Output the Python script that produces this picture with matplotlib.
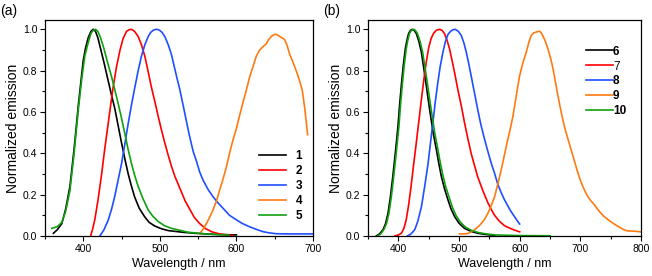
import matplotlib
matplotlib.use("Agg")
import matplotlib.pyplot as plt
from matplotlib.ticker import MultipleLocator

plt.rcParams['font.family'] = ['Liberation Sans', 'DejaVu Sans']

# ---- panel (a) data ----
wl1 = [361, 366, 372, 377, 382.6, 388, 393.5, 397, 400, 403, 406.5, 410, 413, 416, 419, 421.7,
       427, 432.6, 437, 441, 445.5, 450, 454.5, 458.7, 463, 467, 473, 480, 486, 493.5, 502,
       511, 530, 546, 570, 600]
em1 = [0.013, 0.03, 0.06, 0.13, 0.24, 0.42, 0.63, 0.75, 0.85, 0.91, 0.96, 0.99, 1.0, 0.99,
       0.96, 0.92, 0.84, 0.75, 0.68, 0.62, 0.535, 0.45, 0.37, 0.30, 0.24, 0.19, 0.135, 0.094,
       0.066, 0.048, 0.035, 0.026, 0.018, 0.013, 0.008, 0.005]
wl2 = [409.6, 412, 415, 419.5, 424, 428, 432.6, 436, 439, 443.5, 448, 452, 456.5, 460, 463,
       467, 471.7, 476, 480.4, 484.5, 489, 493.5, 497.8, 502, 506.5, 511, 515, 519.5, 524,
       528.5, 533, 539, 545, 552, 560, 568, 578, 595]
em2 = [0.0, 0.03, 0.077, 0.18, 0.30, 0.42, 0.545, 0.64, 0.72, 0.82, 0.90, 0.955, 0.99, 0.998,
       1.0, 0.99, 0.965, 0.925, 0.87, 0.80, 0.72, 0.65, 0.58, 0.515, 0.45, 0.39, 0.34, 0.29,
       0.25, 0.21, 0.17, 0.13, 0.09, 0.06, 0.035, 0.02, 0.01, 0.002]
wl3 = [421.7, 427, 432.6, 437, 441, 445.5, 450, 454.5, 458.7, 463, 467.4, 471.7, 476, 480.4,
       484.8, 488, 492, 495.6, 499, 503, 506.5, 511, 515, 518.5, 522, 526, 530, 535, 539,
       543.5, 548, 552, 556.5, 563, 569.5, 576, 582.6, 591, 600, 608, 617, 626, 634.7, 643,
       652, 665, 678, 700]
em3 = [0.0, 0.03, 0.077, 0.13, 0.19, 0.27, 0.35, 0.45, 0.545, 0.635, 0.72, 0.80, 0.87, 0.925,
       0.965, 0.985, 0.997, 1.0, 0.997, 0.985, 0.965, 0.925, 0.88, 0.825, 0.77, 0.71, 0.64,
       0.55, 0.48, 0.41, 0.36, 0.31, 0.27, 0.225, 0.19, 0.16, 0.134, 0.1, 0.078, 0.06, 0.045,
       0.032, 0.021, 0.015, 0.011, 0.01, 0.01, 0.01]
wl4 = [552, 556, 560.8, 565, 569.5, 574, 578, 582.5, 587, 591, 595.6, 600, 604, 608.5, 613,
       617, 621.7, 626, 630.4, 634.5, 639, 642, 645.6, 648, 651, 654, 656.5, 660, 663, 666,
       669.5, 673, 676, 680, 683, 686, 689, 691, 693]
em4 = [0.013, 0.03, 0.06, 0.09, 0.126, 0.17, 0.22, 0.275, 0.335, 0.40, 0.465, 0.52, 0.58,
       0.645, 0.706, 0.765, 0.82, 0.87, 0.90, 0.915, 0.93, 0.95, 0.965, 0.972, 0.976, 0.972,
       0.965, 0.958, 0.95, 0.925, 0.88, 0.85, 0.82, 0.78, 0.745, 0.706, 0.626, 0.56, 0.49]
wl5 = [359, 366, 372, 377, 382.6, 388, 393.5, 398, 402, 406, 410, 413, 416, 419, 422, 426,
       431, 437, 441, 445.6, 450, 454, 458.5, 463, 467, 471.7, 478, 484.8, 491, 497.8, 506,
       515, 537, 560, 590]
em5 = [0.037, 0.045, 0.066, 0.12, 0.22, 0.40, 0.61, 0.76, 0.87, 0.93, 0.98, 0.995, 1.0, 0.99,
       0.965, 0.92, 0.85, 0.77, 0.71, 0.64, 0.57, 0.50, 0.42, 0.35, 0.295, 0.24, 0.18, 0.126,
       0.095, 0.07, 0.05, 0.037, 0.018, 0.01, 0.004]

# ---- panel (b) data ----
wl6 = [363.7, 369, 374.7, 379, 383, 387, 391, 395, 399.4, 402, 405, 408, 411.5, 414, 417, 420,
       423, 426, 429.6, 434, 438, 442, 446, 450, 454, 458, 462.6, 466.5, 470.8, 476, 481.8,
       487, 492.8, 500, 509, 520, 531, 545, 558.7]
em6 = [0.0, 0.01, 0.03, 0.06, 0.11, 0.19, 0.29, 0.40, 0.53, 0.63, 0.73, 0.82, 0.905, 0.945,
       0.98, 0.995, 1.0, 0.995, 0.98, 0.94, 0.89, 0.81, 0.73, 0.645, 0.565, 0.49, 0.42, 0.355,
       0.29, 0.23, 0.175, 0.13, 0.094, 0.062, 0.037, 0.022, 0.013, 0.007, 0.003]
wl7 = [394, 400, 405, 409, 413, 417, 421, 425, 429.6, 434, 438, 442, 446, 450, 454, 458, 462.6,
       468, 472, 476, 480, 484.5, 488.5, 492.8, 498, 503.8, 509, 514.7, 520, 525.7, 531,
       536.7, 542, 547.7, 553, 558.7, 567, 575, 582, 590, 600]
em7 = [0.0, 0.005, 0.013, 0.035, 0.078, 0.15, 0.24, 0.34, 0.45, 0.56, 0.66, 0.755, 0.84, 0.91,
       0.955, 0.98, 0.995, 1.0, 0.995, 0.98, 0.95, 0.905, 0.85, 0.79, 0.71, 0.63, 0.55, 0.47,
       0.40, 0.34, 0.285, 0.24, 0.20, 0.16, 0.13, 0.10, 0.07, 0.05, 0.04, 0.03, 0.02]
wl8 = [415, 421, 427, 432, 438, 443.5, 449, 453, 457, 461, 465, 469, 473.6, 477.5, 481.8, 486,
       490, 494, 499, 503.8, 508, 512, 516, 520, 525, 531, 536, 542, 547.5, 553, 558.5, 564,
       569.5, 575, 580, 585, 590, 595, 600]
em8 = [0.0, 0.01, 0.03, 0.07, 0.14, 0.24, 0.35, 0.45, 0.55, 0.65, 0.74, 0.82, 0.89, 0.94,
       0.975, 0.99, 0.998, 1.0, 0.99, 0.97, 0.935, 0.89, 0.835, 0.776, 0.70, 0.61, 0.54, 0.47,
       0.41, 0.354, 0.305, 0.25, 0.21, 0.175, 0.148, 0.122, 0.10, 0.078, 0.058]
wl9 = [501, 508, 515, 520, 525.7, 531, 536.7, 542, 547.7, 553, 558.7, 563, 568, 573, 578,
       583.5, 589, 594.5, 600, 605.5, 611, 615, 619, 623, 627.4, 631, 633, 635, 638, 642,
       646.6, 651, 655, 659, 663, 667, 671, 675, 679.6, 684, 688, 692, 696, 700, 704, 708,
       712.5, 718, 723.5, 727.5, 731.7, 737, 742.7, 748, 753.7, 759, 764.7, 770, 775.7, 781,
       786.7, 793, 800]
em9 = [0.01, 0.01, 0.012, 0.02, 0.03, 0.043, 0.06, 0.08, 0.11, 0.145, 0.19, 0.24, 0.30, 0.365,
       0.435, 0.505, 0.58, 0.68, 0.776, 0.84, 0.89, 0.935, 0.97, 0.982, 0.987, 0.99, 0.99,
       0.985, 0.97, 0.945, 0.905, 0.86, 0.81, 0.745, 0.68, 0.62, 0.565, 0.515, 0.47, 0.425,
       0.386, 0.345, 0.305, 0.27, 0.24, 0.215, 0.19, 0.168, 0.15, 0.133, 0.118, 0.10, 0.086,
       0.074, 0.062, 0.052, 0.042, 0.033, 0.026, 0.024, 0.024, 0.022, 0.02]
wl10 = [366, 371, 376, 380.5, 384.5, 388.5, 392.5, 396.5, 401, 403.5, 406.5, 409.5, 413, 415.5,
        418.5, 421.5, 425, 428, 431.5, 436, 440, 444, 448, 452, 456, 460, 464.5, 468.5, 473,
        478, 484, 489, 495, 502, 511, 522, 533, 545, 560, 600, 650]
em10 = [0.0, 0.01, 0.03, 0.06, 0.11, 0.19, 0.29, 0.40, 0.53, 0.63, 0.73, 0.82, 0.905, 0.945,
        0.98, 0.995, 1.0, 0.995, 0.98, 0.94, 0.89, 0.815, 0.735, 0.655, 0.575, 0.50, 0.43,
        0.365, 0.30, 0.24, 0.185, 0.14, 0.10, 0.068, 0.042, 0.025, 0.016, 0.01, 0.005, 0.002,
        0.001]

colors = ['black', '#ff0000', '#1f4fff', '#ff7a10', '#10a010']

fig = plt.figure(figsize=(6.52, 2.76), dpi=100)
axa = fig.add_axes([0.069, 0.145, 0.411, 0.7825])
axb = fig.add_axes([0.5644, 0.145, 0.4187, 0.7825])

panels = [
    (axa, [(wl1, em1, '1'), (wl2, em2, '2'), (wl3, em3, '3'), (wl4, em4, '4'), (wl5, em5, '5')],
     (350, 700), '(a)', (1.0, 0.015)),
    (axb, [(wl6, em6, '6'), (wl7, em7, '7'), (wl8, em8, '8'), (wl9, em9, '9'), (wl10, em10, '10')],
     (350, 800), '(b)', (0.985, 0.5)),
]

for ax, series, xl, tag, anchor in panels:
    for (x, y, lab), c in zip(series, colors):
        ax.plot(x, y, color=c, lw=1.2, label=lab)
    ax.set_xlim(*xl)
    ax.set_ylim(0, 1.045)
    ax.xaxis.set_major_locator(MultipleLocator(100))
    ax.xaxis.set_minor_locator(MultipleLocator(50))
    ax.yaxis.set_major_locator(MultipleLocator(0.2))
    ax.yaxis.set_minor_locator(MultipleLocator(0.1))
    ax.yaxis.set_major_formatter(plt.FormatStrFormatter('%.1f'))
    ax.tick_params(which='major', direction='out', length=3.5, width=0.8, labelsize=7.5, pad=2)
    ax.tick_params(which='minor', direction='out', length=2, width=0.8)
    for s in ax.spines.values():
        s.set_linewidth(0.9)
    ax.set_xlabel("Wavelength / nm", fontsize=9, labelpad=3)
    ax.set_ylabel("Normalized emission", fontsize=10, labelpad=2)
    hp = 0.8 if tag == '(a)' else 0.0
    leg = ax.legend(loc='lower right', bbox_to_anchor=anchor, frameon=False,
                    handlelength=2.3, handletextpad=hp, labelspacing=0.25,
                    prop={'weight': 'bold', 'size': 8.5})
    if tag == '(b)':
        leg.get_texts()[1].set_fontweight('normal')
    fig.text(ax.get_position().x0 - 0.069, 0.985, tag, fontsize=10, va='top', ha='left')

plt.savefig("out.png", dpi=100)
